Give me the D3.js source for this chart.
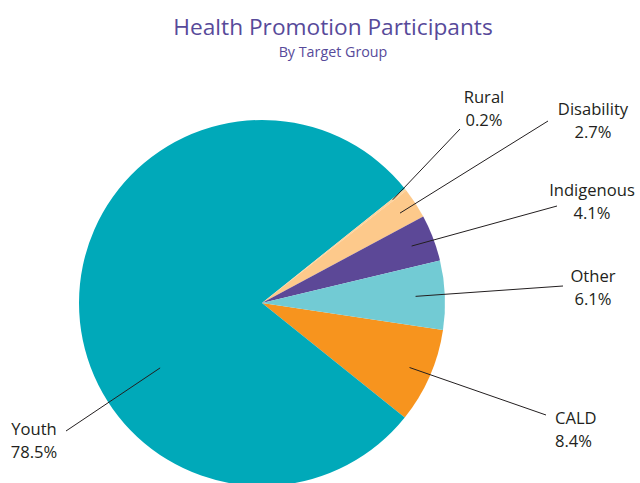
<!DOCTYPE html>
<html>
<head>
<meta charset="utf-8">
<script src="https://cdn.jsdelivr.net/npm/d3@7"></script>
<style>
  html, body { margin: 0; padding: 0; background: #fff; }
  svg { display: block; }
  text { font-family: "Open Sans", sans-serif; }
</style>
</head>
<body>
<svg id="chart" width="640" height="483"></svg>
<script>
// Data
const categories = ["CALD", "Youth", "Rural", "Disability", "Indigenous", "Other"];
const values = [8.4, 78.5, 0.2, 2.7, 4.1, 6.1];
const valueLabels = ["8.4%", "78.5%", "0.2%", "2.7%", "4.1%", "6.1%"];
const colors = ["#F7941E", "#00A9B9", "#FDD29A", "#FDC98B", "#5C4897", "#72CBD4"];

// Layout (label anchors, not data)
const labelLayout = {
  CALD:       { x: 555, y: 424, anchor: "start", lineEnd: [546, 415], r: 0.88 },
  Youth:      { x: 34,  y: 435, anchor: "middle", lineEnd: [66, 431], r: 0.66, angle: 237.5 },
  Rural:      { x: 484, y: 103, anchor: "middle", lineEnd: [460, 129], r: 0.91 },
  Disability: { x: 593, y: 115, anchor: "middle", lineEnd: [548, 121], r: 0.90 },
  Indigenous: { x: 592, y: 196, anchor: "middle", lineEnd: [557, 206], r: 0.875 },
  Other:      { x: 593, y: 282, anchor: "middle", lineEnd: [563, 286], r: 0.84 }
};

const svg = d3.select("#chart");
const cx = 262, cy = 303, R = 183;
const deg = Math.PI / 180;
const start = 98.5 * deg;

svg.append("text")
  .attr("x", 333).attr("y", 35)
  .attr("text-anchor", "middle")
  .attr("fill", "#574A9A")
  .attr("font-size", 22.7)
  .attr("font-weight", 500)
  .text("Health Promotion Participants");
svg.append("text")
  .attr("x", 333).attr("y", 57)
  .attr("text-anchor", "middle")
  .attr("fill", "#574A9A")
  .attr("font-size", 14.3)
  .attr("font-weight", 500)
  .text("By Target Group");

const data = categories.map((c, i) => ({ name: c, value: values[i], label: valueLabels[i], color: colors[i] }));
const pie = d3.pie().sort(null).value(d => d.value).startAngle(start).endAngle(start + 2 * Math.PI);
const arcs = pie(data);
const arc = d3.arc().innerRadius(0).outerRadius(R);

const g = svg.append("g").attr("transform", `translate(${cx},${cy})`);
g.selectAll("path.slice").data(arcs).enter().append("path")
  .attr("class", "slice")
  .attr("d", arc)
  .attr("fill", d => d.data.color);

// Leader lines and labels
arcs.forEach(a => {
  const L = labelLayout[a.data.name];
  const ang = L.angle !== undefined ? L.angle * deg : (a.startAngle + a.endAngle) / 2;
  const r = L.r * R;
  const x1 = cx + r * Math.sin(ang), y1 = cy - r * Math.cos(ang);
  svg.append("line")
    .attr("x1", x1).attr("y1", y1)
    .attr("x2", L.lineEnd[0]).attr("y2", L.lineEnd[1])
    .attr("stroke", "#231F20").attr("stroke-width", 1);
  const t = svg.append("text")
    .attr("x", L.x).attr("y", L.y)
    .attr("text-anchor", L.anchor)
    .attr("fill", "#231F20")
    .attr("font-size", 16.6)
    .attr("font-weight", 500);
  t.append("tspan").attr("x", L.x).text(a.data.name);
  t.append("tspan").attr("x", L.x).attr("dy", 22.5).text(a.data.label);
});
</script>
</body>
</html>
